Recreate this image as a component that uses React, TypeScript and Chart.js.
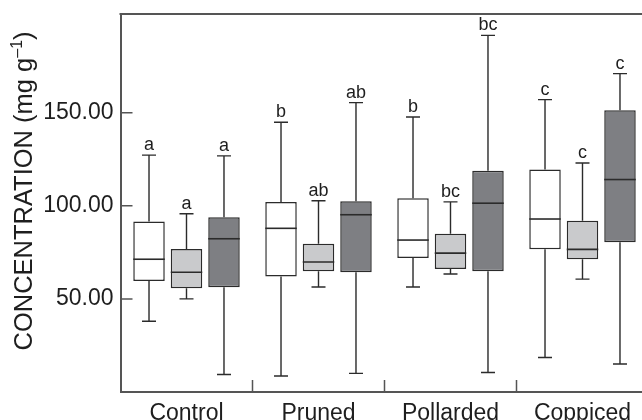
import React, { useEffect, useRef } from 'react';
import { Chart, registerables } from 'chart.js';
Chart.register(...registerables);

const groups = ['Control', 'Pruned', 'Pollarded', 'Coppiced'];
const yTicks = [0, 50, 100, 150];

// Series 1 (white)
const whiteMin = [38.0, 8.6, 56.4, 18.5];
const whiteQ1 = [59.6, 62.0, 72.0, 76.6];
const whiteMedian = [71.3, 87.9, 81.6, 92.9];
const whiteQ3 = [91.6, 102.1, 104.0, 119.5];
const whiteMax = [127.2, 144.9, 147.7, 157.0];
const whiteLetters = ['a', 'b', 'b', 'c'];

// Series 2 (light grey)
const lightMin = [50.0, 56.4, 63.4, 60.6];
const lightQ1 = [55.7, 64.8, 66.1, 71.3];
const lightMedian = [64.3, 69.8, 74.6, 76.6];
const lightQ3 = [76.8, 79.6, 85.0, 92.0];
const lightMax = [95.7, 102.7, 102.1, 123.0];
const lightLetters = ['a', 'ab', 'bc', 'c'];

// Series 3 (dark grey)
const darkMin = [9.4, 10.0, 10.5, 15.0];
const darkQ1 = [56.3, 64.3, 64.8, 80.4];
const darkMedian = [82.3, 95.2, 101.4, 114.1];
const darkQ3 = [93.8, 102.4, 118.8, 151.3];
const darkMax = [126.8, 155.4, 191.5, 171.0];
const darkLetters = ['a', 'ab', 'bc', 'c'];

const series = [
  { min: whiteMin, q1: whiteQ1, med: whiteMedian, q3: whiteQ3, max: whiteMax, letters: whiteLetters, fill: '#ffffff' },
  { min: lightMin, q1: lightQ1, med: lightMedian, q3: lightQ3, max: lightMax, letters: lightLetters, fill: '#c9cacc' },
  { min: darkMin, q1: darkQ1, med: darkMedian, q3: darkQ3, max: darkMax, letters: darkLetters, fill: '#7e7f83' },
];

const FAMILY = '"Liberation Sans", Arial, Helvetica, sans-serif';
const LINE = '#2b2b2b';
const AXIS = '#555555';

const boxPlugin = {
  id: 'boxExtras',
  afterDatasetsDraw(chart: any) {
    const { ctx, chartArea } = chart;
    const y = chart.scales.y;
    const x = chart.scales.x;
    ctx.save();
    series.forEach((s, d) => {
      const meta = chart.getDatasetMeta(d);
      meta.data.forEach((el: any, i: number) => {
        const cx = el.x;
        const w = el.width;
        const pMin = y.getPixelForValue(s.min[i]);
        const pQ1 = y.getPixelForValue(s.q1[i]);
        const pMed = y.getPixelForValue(s.med[i]);
        const pQ3 = y.getPixelForValue(s.q3[i]);
        const pMax = y.getPixelForValue(s.max[i]);
        ctx.strokeStyle = LINE;
        ctx.lineWidth = 1.4;
        ctx.beginPath();
        ctx.moveTo(cx, pQ3);
        ctx.lineTo(cx, pMax);
        ctx.moveTo(cx - 7, pMax);
        ctx.lineTo(cx + 7, pMax);
        ctx.moveTo(cx, pQ1);
        ctx.lineTo(cx, pMin);
        ctx.moveTo(cx - 7, pMin);
        ctx.lineTo(cx + 7, pMin);
        ctx.stroke();
        ctx.lineWidth = 1.6;
        ctx.beginPath();
        ctx.moveTo(cx - w / 2, pMed);
        ctx.lineTo(cx + w / 2, pMed);
        ctx.stroke();
        ctx.fillStyle = '#1e1e1e';
        ctx.font = '18px ' + FAMILY;
        ctx.textAlign = 'center';
        ctx.textBaseline = 'alphabetic';
        ctx.fillText(s.letters[i], cx, pMax - 5);
      });
    });
    // frame top line
    ctx.strokeStyle = AXIS;
    ctx.lineWidth = 2;
    ctx.beginPath();
    ctx.moveTo(chartArea.left - 1, chartArea.top);
    ctx.lineTo(chart.width, chartArea.top);
    ctx.stroke();
    // inner y ticks
    ctx.lineWidth = 1.5;
    ctx.beginPath();
    yTicks.forEach((v) => {
      const py = y.getPixelForValue(v);
      ctx.moveTo(chartArea.left, py);
      ctx.lineTo(chartArea.left + 12, py);
    });
    // inner x separators
    for (let i = 0; i < groups.length - 1; i++) {
      const px = (x.getPixelForValue(i) + x.getPixelForValue(i + 1)) / 2;
      ctx.moveTo(px, chartArea.bottom);
      ctx.lineTo(px, chartArea.bottom - 12);
    }
    ctx.stroke();
    // y axis title with superscript
    const main = 'CONCENTRATION (mg g';
    const sup = '\u20131';
    const end = ')';
    ctx.fillStyle = '#1e1e1e';
    ctx.font = '25.5px ' + FAMILY;
    const wMain = ctx.measureText(main).width;
    const wEnd = ctx.measureText(end).width;
    ctx.font = '16px ' + FAMILY;
    const wSup = ctx.measureText(sup).width;
    const total = wMain + wSup + wEnd;
    ctx.translate(31.5, 191);
    ctx.rotate(-Math.PI / 2);
    ctx.textAlign = 'left';
    ctx.textBaseline = 'alphabetic';
    let start = -total / 2;
    ctx.font = '25.5px ' + FAMILY;
    ctx.fillText(main, start, 0);
    start += wMain;
    ctx.font = '16px ' + FAMILY;
    ctx.fillText(sup, start, -10);
    start += wSup;
    ctx.font = '25.5px ' + FAMILY;
    ctx.fillText(end, start, 0);
    ctx.restore();
  },
};

export default function App() {
  const ref = useRef<HTMLCanvasElement>(null);
  useEffect(() => {
    const chart = new Chart(ref.current as HTMLCanvasElement, {
      type: 'bar',
      data: {
        labels: groups,
        datasets: series.map((s, d) => ({
          label: 'S' + (d + 1),
          data: s.q1.map((v, i) => [v, s.q3[i]]),
          backgroundColor: s.fill,
          borderColor: LINE,
          borderWidth: 1.5,
          borderSkipped: false,
          categoryPercentage: 0.852,
          barPercentage: 0.84,
        })),
      } as any,
      options: {
        responsive: false,
        animation: false,
        devicePixelRatio: 1,
        layout: { padding: { left: 0, right: 51.5, top: 14, bottom: 0 } },
        plugins: { legend: { display: false }, tooltip: { enabled: false } },
        scales: {
          x: {
            grid: { display: true, drawOnChartArea: false, drawTicks: false },
            border: { display: true, color: AXIS, width: 2 },
            ticks: { font: { size: 23, family: FAMILY }, color: '#1e1e1e', padding: 8, maxRotation: 0, autoSkip: false },
            afterFit: (s: any) => { s.height = 28; s.paddingLeft = 0; s.paddingRight = 0; },
          },
          y: {
            min: 0,
            max: 203,
            afterBuildTicks: (s: any) => { s.ticks = yTicks.map((v) => ({ value: v })); },
            grid: { display: true, drawOnChartArea: false, drawTicks: false },
            border: { display: true, color: AXIS, width: 2 },
            ticks: {
              font: { size: 23, family: FAMILY },
              color: '#1e1e1e',
              padding: 7,
              callback: (v: any) => (Number(v) === 0 ? '' : Number(v).toFixed(2)),
            },
            afterFit: (s: any) => { s.width = 120.5; s.paddingTop = 0; s.paddingBottom = 0; },
          },
        },
      } as any,
      plugins: [boxPlugin],
    });
    return () => chart.destroy();
  }, []);
  return (
    <div style={{ position: 'fixed', left: 0, top: 0, width: '100vw', height: '100vh', overflow: 'hidden', background: '#fff' }}>
      <canvas ref={ref} width={700} height={420} style={{ display: 'block', width: 700, height: 420 }} />
    </div>
  );
}
